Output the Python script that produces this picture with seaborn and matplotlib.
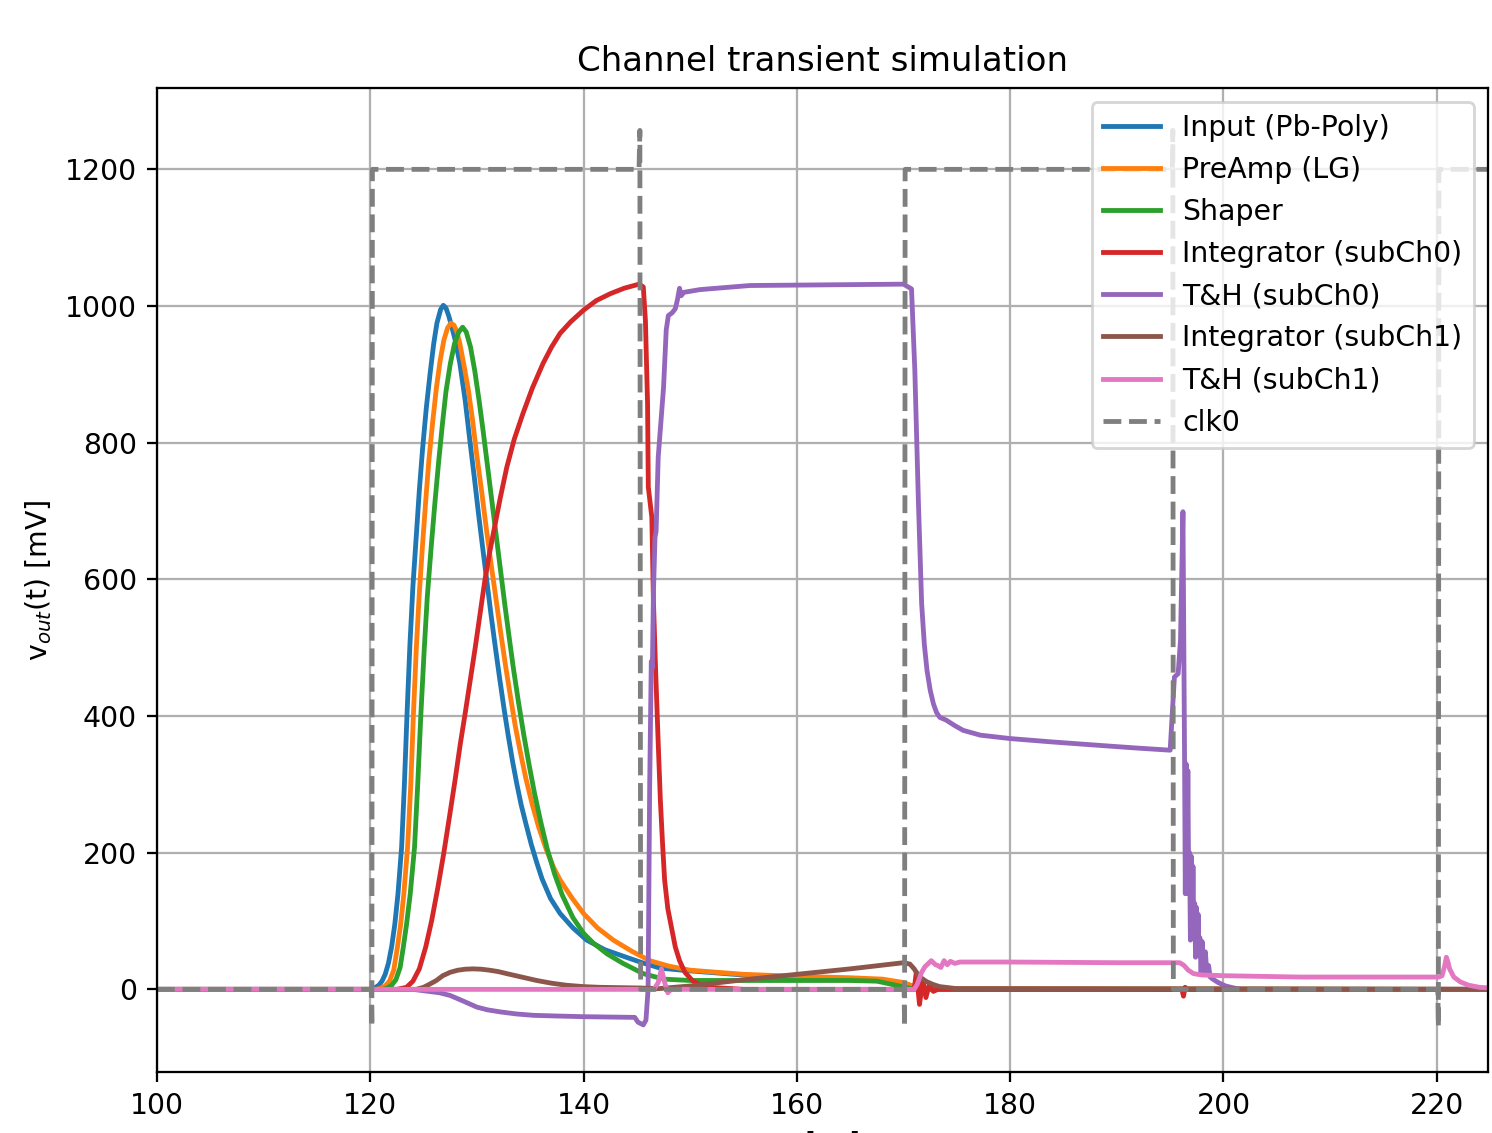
import numpy as np
import pandas as pd
import matplotlib
matplotlib.use("Agg")
import matplotlib.pyplot as plt
import seaborn as sns

# time axis in ns, voltages in mV
t_in = [100, 120.0, 120.4, 120.8, 121.1, 121.4, 121.7, 122.0, 122.3, 122.6, 122.94, 123.2,
        123.45, 123.72, 124.0, 124.3, 124.6, 124.9, 125.25, 125.6, 125.95, 126.25, 126.6,
        126.85, 127.1, 127.35, 127.6, 128.0, 128.4, 128.9, 129.34, 129.75, 130.15, 130.55,
        130.95, 131.35, 131.75, 132.15, 132.55, 132.95, 133.35, 133.75, 134.15, 134.6, 135.1,
        135.6, 136.1, 136.9, 137.8, 139.0, 140.3, 142.0, 144.0, 145.5, 147.2, 150, 155, 160,
        165, 168, 170, 171, 172, 225]
v_in = [0, 0, 2, 6, 12, 22, 38, 62, 95, 140, 208, 300,
        404, 505, 590, 660, 730, 790, 850, 900, 945, 975, 995,
        1001, 997, 986, 972, 948, 916, 862, 803, 750, 696, 645,
        595, 545, 498, 453, 410, 370, 333, 300, 270, 242, 212,
        186, 162, 133, 111, 90, 72, 58, 47, 39, 31, 27, 21, 18,
        15, 13, 9, 4, 1, 0]

t_pa = [100, 120.6, 121.0, 121.4, 121.8, 122.2, 122.55, 122.85, 123.15, 123.5, 123.8,
        124.05, 124.32, 124.6, 124.9, 125.2, 125.5, 125.85, 126.2, 126.55, 126.9, 127.25,
        127.56, 127.85, 128.1, 128.4, 128.8, 129.2, 129.6, 129.97, 130.45, 130.9, 131.35,
        131.8, 132.25, 132.7, 133.15, 133.6, 134.1, 134.6, 135.2, 135.8, 136.5, 137.2, 137.8,
        138.9, 140.0, 141.3, 142.8, 144.5, 146.2, 148, 150, 155, 160, 165, 168, 170, 171,
        172, 225]
v_pa = [0, 0, 2, 5, 12, 28, 62, 95, 140, 208, 300,
        404, 500, 580, 650, 715, 775, 830, 880, 920, 950, 968,
        975, 972, 963, 945, 912, 877, 832, 784, 728, 672, 620,
        570, 520, 472, 428, 385, 345, 308, 270, 237, 205, 178, 160,
        134, 111, 90, 72, 56, 42, 34, 28, 22, 19, 17, 15, 10, 4,
        1, 0]

t_sh = [100, 121.2, 121.6, 122.0, 122.4, 122.8, 123.1, 123.4, 123.75, 124.15, 124.45,
        124.75, 125.05, 125.35, 125.7, 126.05, 126.4, 126.75, 127.1, 127.5, 127.9, 128.3,
        128.66, 129.0, 129.4, 129.8, 130.2, 130.6, 131.0, 131.4, 131.8, 132.2, 132.6, 133.0,
        133.4, 133.9, 134.4, 134.9, 135.4, 136.0, 136.6, 137.3, 138.0, 139.0, 140.0, 140.9,
        142.2, 143.7, 145.6, 147.5, 150, 155, 160, 165, 167.5, 169, 170.5, 171.5, 225]
v_sh = [0, 0, 2, 6, 14, 32, 62, 95, 140, 208, 300,
        404, 495, 575, 645, 710, 770, 825, 875, 915, 945, 962,
        969, 962, 940, 905, 862, 815, 765, 715, 665, 615, 565, 518,
        472, 420, 372, 328, 287, 244, 205, 168, 138, 105, 82, 68,
        52, 38, 23, 15, 13, 13, 13, 13, 12, 7, 2, 0, 0]

t_i0 = [100, 122.5, 123.4, 124.0, 124.6, 125.2, 125.75, 126.35, 126.9, 127.45, 127.95,
        128.45, 128.9, 129.4, 129.85, 130.3, 130.75, 131.2, 131.7, 132.2, 132.8, 133.5,
        134.3, 135.2, 136.2, 137.0, 137.8, 138.8, 140.0, 141.2, 142.5, 143.8,
        145.2, 145.6, 145.8, 146.0, 146.07, 146.4, 146.55, 146.75, 147.0, 147.2, 147.4, 147.6,
        147.9, 148.3, 148.6, 149.0, 149.5, 150.2, 151.0, 151.8, 155,
        171.0, 171.2, 171.5, 171.8, 172.1, 172.4, 172.8, 173.2,
        196.1, 196.25, 196.4, 196.6, 225]
v_i0 = [0, 0, 3, 12, 30, 62, 100, 150, 200, 255, 306,
        360, 404, 455, 501, 550, 599, 640, 680, 720, 764, 805,
        842, 880, 916, 940, 960, 977, 994, 1008, 1018, 1026,
        1032, 1028, 979, 857, 735, 691, 569, 470, 360, 277, 215, 160,
        118, 86, 62, 42, 25, 13, 6, 3, 0,
        0, 25, -22, 15, -12, 6, -3, 0,
        0, -10, 3, 0, 0]

t_th0 = [100, 124.0, 125.5, 126.5, 127.5, 128.7, 130.0, 131.0, 132.2, 133.7, 135.3, 137.5,
         140.0, 144.8, 145.1, 145.6, 145.85,
         146.05, 146.2, 146.35, 146.45, 146.55, 146.7, 146.8, 147.0, 147.5, 147.75, 147.95,
         148.3, 148.6, 148.8, 149.0, 149.15, 149.4, 150.9, 155.6, 170.0, 170.75, 171.06,
         171.4, 171.7, 171.95, 172.2, 172.5, 172.8, 173.1, 173.4, 174.0, 174.8, 175.6, 177.2,
         180, 184, 188.4, 192, 195.0,
         195.4, 195.75, 195.97, 196.2, 196.35, 196.42, 196.5, 196.58, 196.66, 196.74, 196.82,
         196.9, 196.98, 197.06, 197.14, 197.22, 197.3, 197.38, 197.46, 197.54, 197.62, 197.7,
         197.78, 197.9, 198.0, 198.15, 198.3, 198.45, 198.6, 198.75,
         199.0, 199.5, 200.2, 201.5, 225]
v_th0 = [0, 0, -3, -5, -9, -17, -26, -30, -33, -36, -38, -39,
         -40, -41, -48, -52, -45,
         0, 300, 480, 470, 580, 662, 670, 779, 881, 965, 986,
         990, 996, 1009, 1026, 1015, 1020, 1024, 1030, 1032, 1025, 906,
         711, 564, 505, 467, 438, 418, 405, 398, 394, 386, 379, 372,
         367, 362, 357, 353, 350,
         457, 462, 511, 699, 340, 140, 330, 140, 320, 150, 200,
         72, 195, 75, 180, 80, 126, 47, 120, 50, 110, 50,
         76, 25, 70, 25, 55, 22, 35, 18,
         15, 10, 5, 0, 0]

t_i1 = [100, 124.3, 125.0, 125.5, 126.2, 126.8, 127.5, 128.2, 128.9, 129.65, 130.4, 131.2,
        132.0, 132.8, 134.2, 135.6, 137.0, 138.4, 140.0, 141.5, 145.3,
        147.0, 150, 155, 160, 165, 170.0, 170.6, 171.0, 171.4, 171.8, 172.2, 172.8, 173.4,
        175, 225]
v_i1 = [0, 0, 3, 7, 13, 20, 25, 28, 29.5, 30, 29.5, 28,
        26, 23, 18, 13, 9, 6, 4, 3, 2,
        1, 5, 14, 22, 30, 39, 37, 30, 20, 15, 11, 7, 4,
        1, 0]

t_th1 = [100, 146.6, 147.0, 147.3, 147.6, 147.9, 148.2, 171.0, 171.3, 171.7, 172.0, 172.6,
         173.0, 173.2, 173.5, 173.8, 174.1, 174.4, 174.8, 175.3, 180, 190, 195.5, 195.9,
         196.3, 196.7, 197.2, 198, 200, 207.2, 215, 220.2, 220.5, 220.75, 220.9, 221.05,
         221.2, 221.6, 222.2, 223, 224, 225]
v_th1 = [0, 0, 10, 30, 10, -5, 0, 0, 8, 25, 33, 42,
         36, 35, 32, 42, 36, 41, 38, 40, 40, 39, 39, 39,
         35, 28, 23, 21, 20, 18, 18, 18, 20, 35, 47, 40,
         30, 18, 11, 6, 3, 2]

t_clk = [100, 120.1, 120.15, 120.2, 145.2, 145.28, 145.35, 170.05, 170.1, 170.15,
         195.2, 195.25, 195.3, 220.1, 220.15, 220.2, 225]
v_clk = [0, 0, -55, 1200, 1200, 1257, 0, 0, -55, 1200,
         1200, 1257, 0, 0, -55, 1200, 1200]

series = [
    ("Input (Pb-Poly)", t_in, v_in, "tab:blue"),
    ("PreAmp (LG)", t_pa, v_pa, "tab:orange"),
    ("Shaper", t_sh, v_sh, "tab:green"),
    ("Integrator (subCh0)", t_i0, v_i0, "tab:red"),
    ("T&H (subCh0)", t_th0, v_th0, "tab:purple"),
    ("Integrator (subCh1)", t_i1, v_i1, "tab:brown"),
    ("T&H (subCh1)", t_th1, v_th1, "tab:pink"),
]

dpi = 204
fig = plt.figure(figsize=(1492 / dpi, 1133 / dpi), dpi=dpi)
ax = fig.add_axes([0.1052, 0.0538, 0.8921, 0.8685])

for name, t, v, c in series:
    sns.lineplot(x=t, y=v, ax=ax, label=name, color=c, sort=False,
                 estimator=None, linewidth=1.7)
sns.lineplot(x=t_clk, y=v_clk, ax=ax, label="clk0", color="tab:gray", sort=False,
             estimator=None, linewidth=1.7, linestyle="--")

ax.set_xlim(100, 224.8)
ax.set_ylim(-121, 1319)
ax.set_xticks([100, 120, 140, 160, 180, 200, 220])
ax.set_yticks([0, 200, 400, 600, 800, 1000, 1200])
ax.grid(True)
ax.set_title("Channel transient simulation")
ax.set_xlabel("t [ns]")
ax.set_ylabel("v$_{out}$(t) [mV]")
ax.legend(loc="upper right")

fig.savefig("out.png", dpi=dpi)
